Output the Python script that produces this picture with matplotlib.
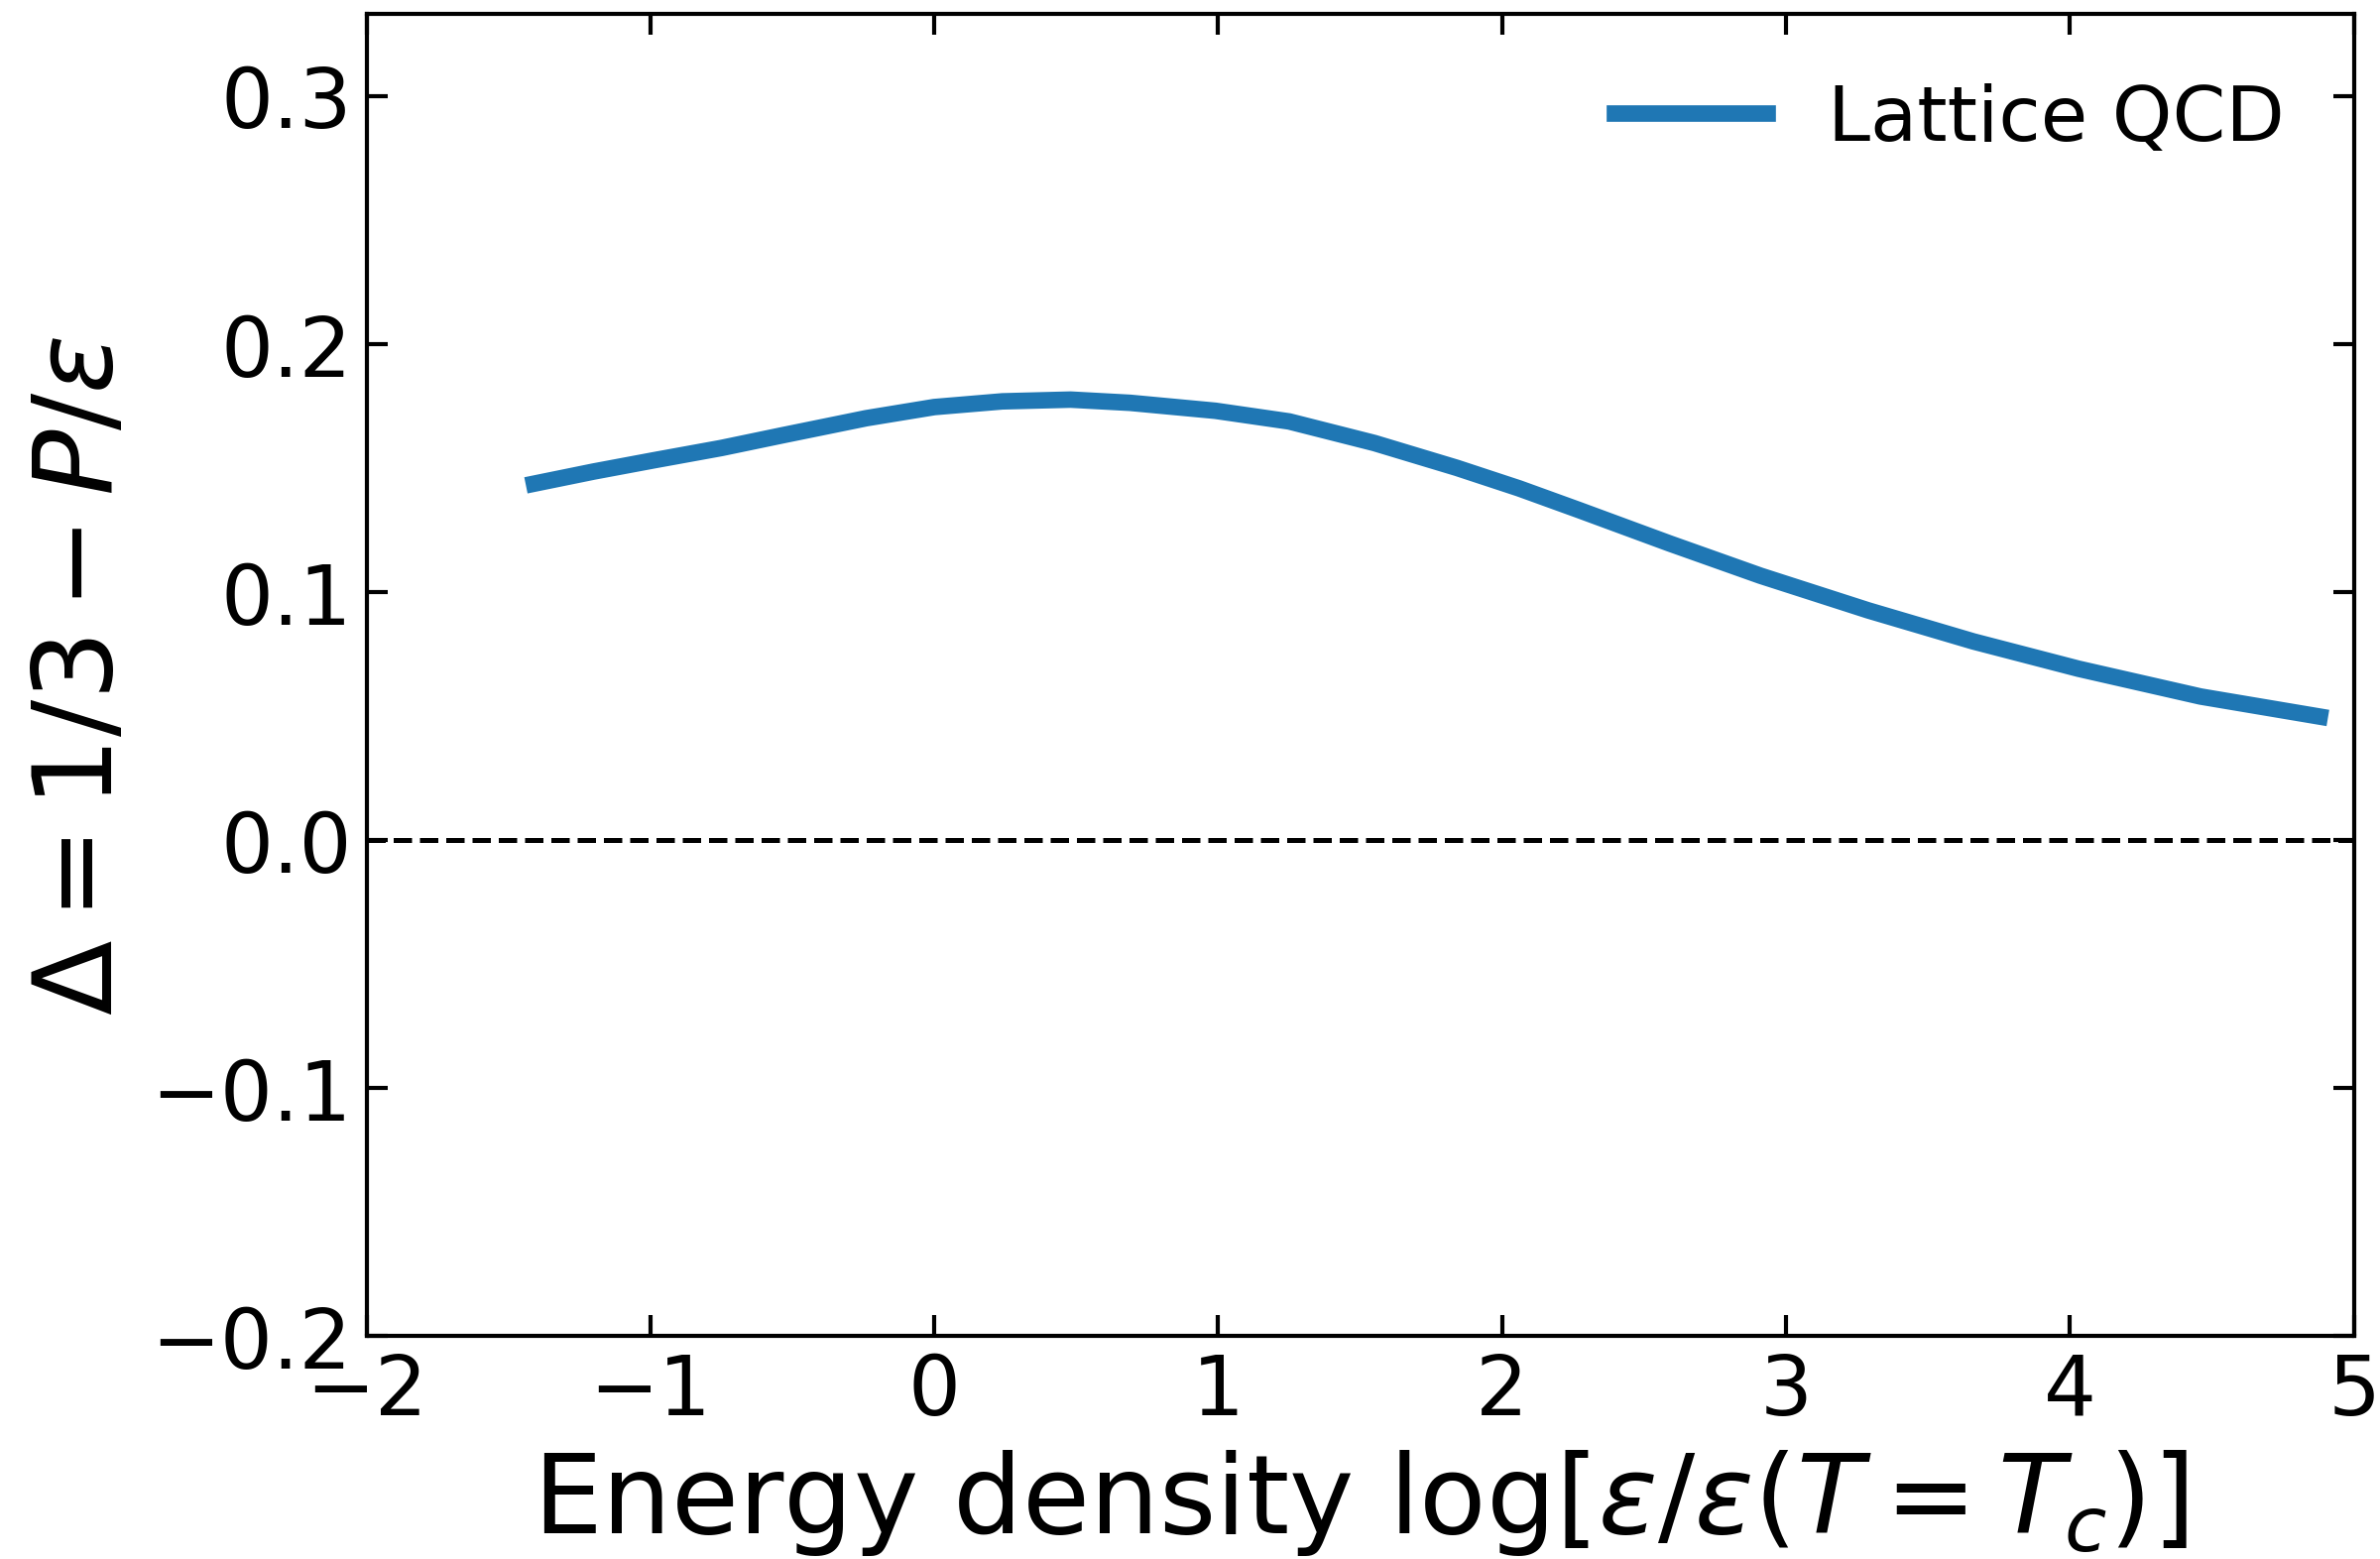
import matplotlib
matplotlib.use("Agg")
import matplotlib.pyplot as plt

# values
log_eps = [-1.41, -1.2, -0.99, -0.75, -0.54, -0.24, 0.0, 0.24, 0.48, 0.69, 0.99, 1.25,
           1.55, 1.84, 2.06, 2.27, 2.59, 2.91, 3.29, 3.66, 4.03, 4.46, 4.88]
delta = [0.1436, 0.1485, 0.153, 0.158, 0.163, 0.170, 0.1745, 0.1768, 0.1775, 0.1762, 0.173, 0.1687,
         0.160, 0.150, 0.1417, 0.133, 0.1195, 0.1065, 0.0925, 0.0800, 0.0690, 0.0578, 0.0497]

x_ticks = [-2, -1, 0, 1, 2, 3, 4, 5]
y_ticks = [-0.2, -0.1, 0.0, 0.1, 0.2, 0.3]

fig, ax = plt.subplots(figsize=(8.0, 5.243), dpi=300)
fig.subplots_adjust(left=0.154, right=0.989, bottom=0.143, top=0.9905)

ax.plot(log_eps, delta, color="#1f77b4", lw=4, label="Lattice QCD")
ax.axhline(0.0, color="black", lw=1.2, ls="--")

ax.set_xlim(-2, 5)
ax.set_ylim(-0.2, 0.333)
ax.set_xticks(x_ticks)
ax.set_yticks(y_ticks)
ax.tick_params(direction="in", top=True, right=True, labelsize=20, length=5, width=1)
for s in ax.spines.values():
    s.set_linewidth(1)

ax.set_xlabel(r"Energy density $\log[\varepsilon/\varepsilon(T=T_c)]$", fontsize=26.5)
ax.set_ylabel(r"$\Delta = 1/3 - P/\varepsilon$", fontsize=26.5)
ax.legend(loc="upper right", frameon=False, fontsize=18.5)

fig.savefig("out.png", dpi=300)
